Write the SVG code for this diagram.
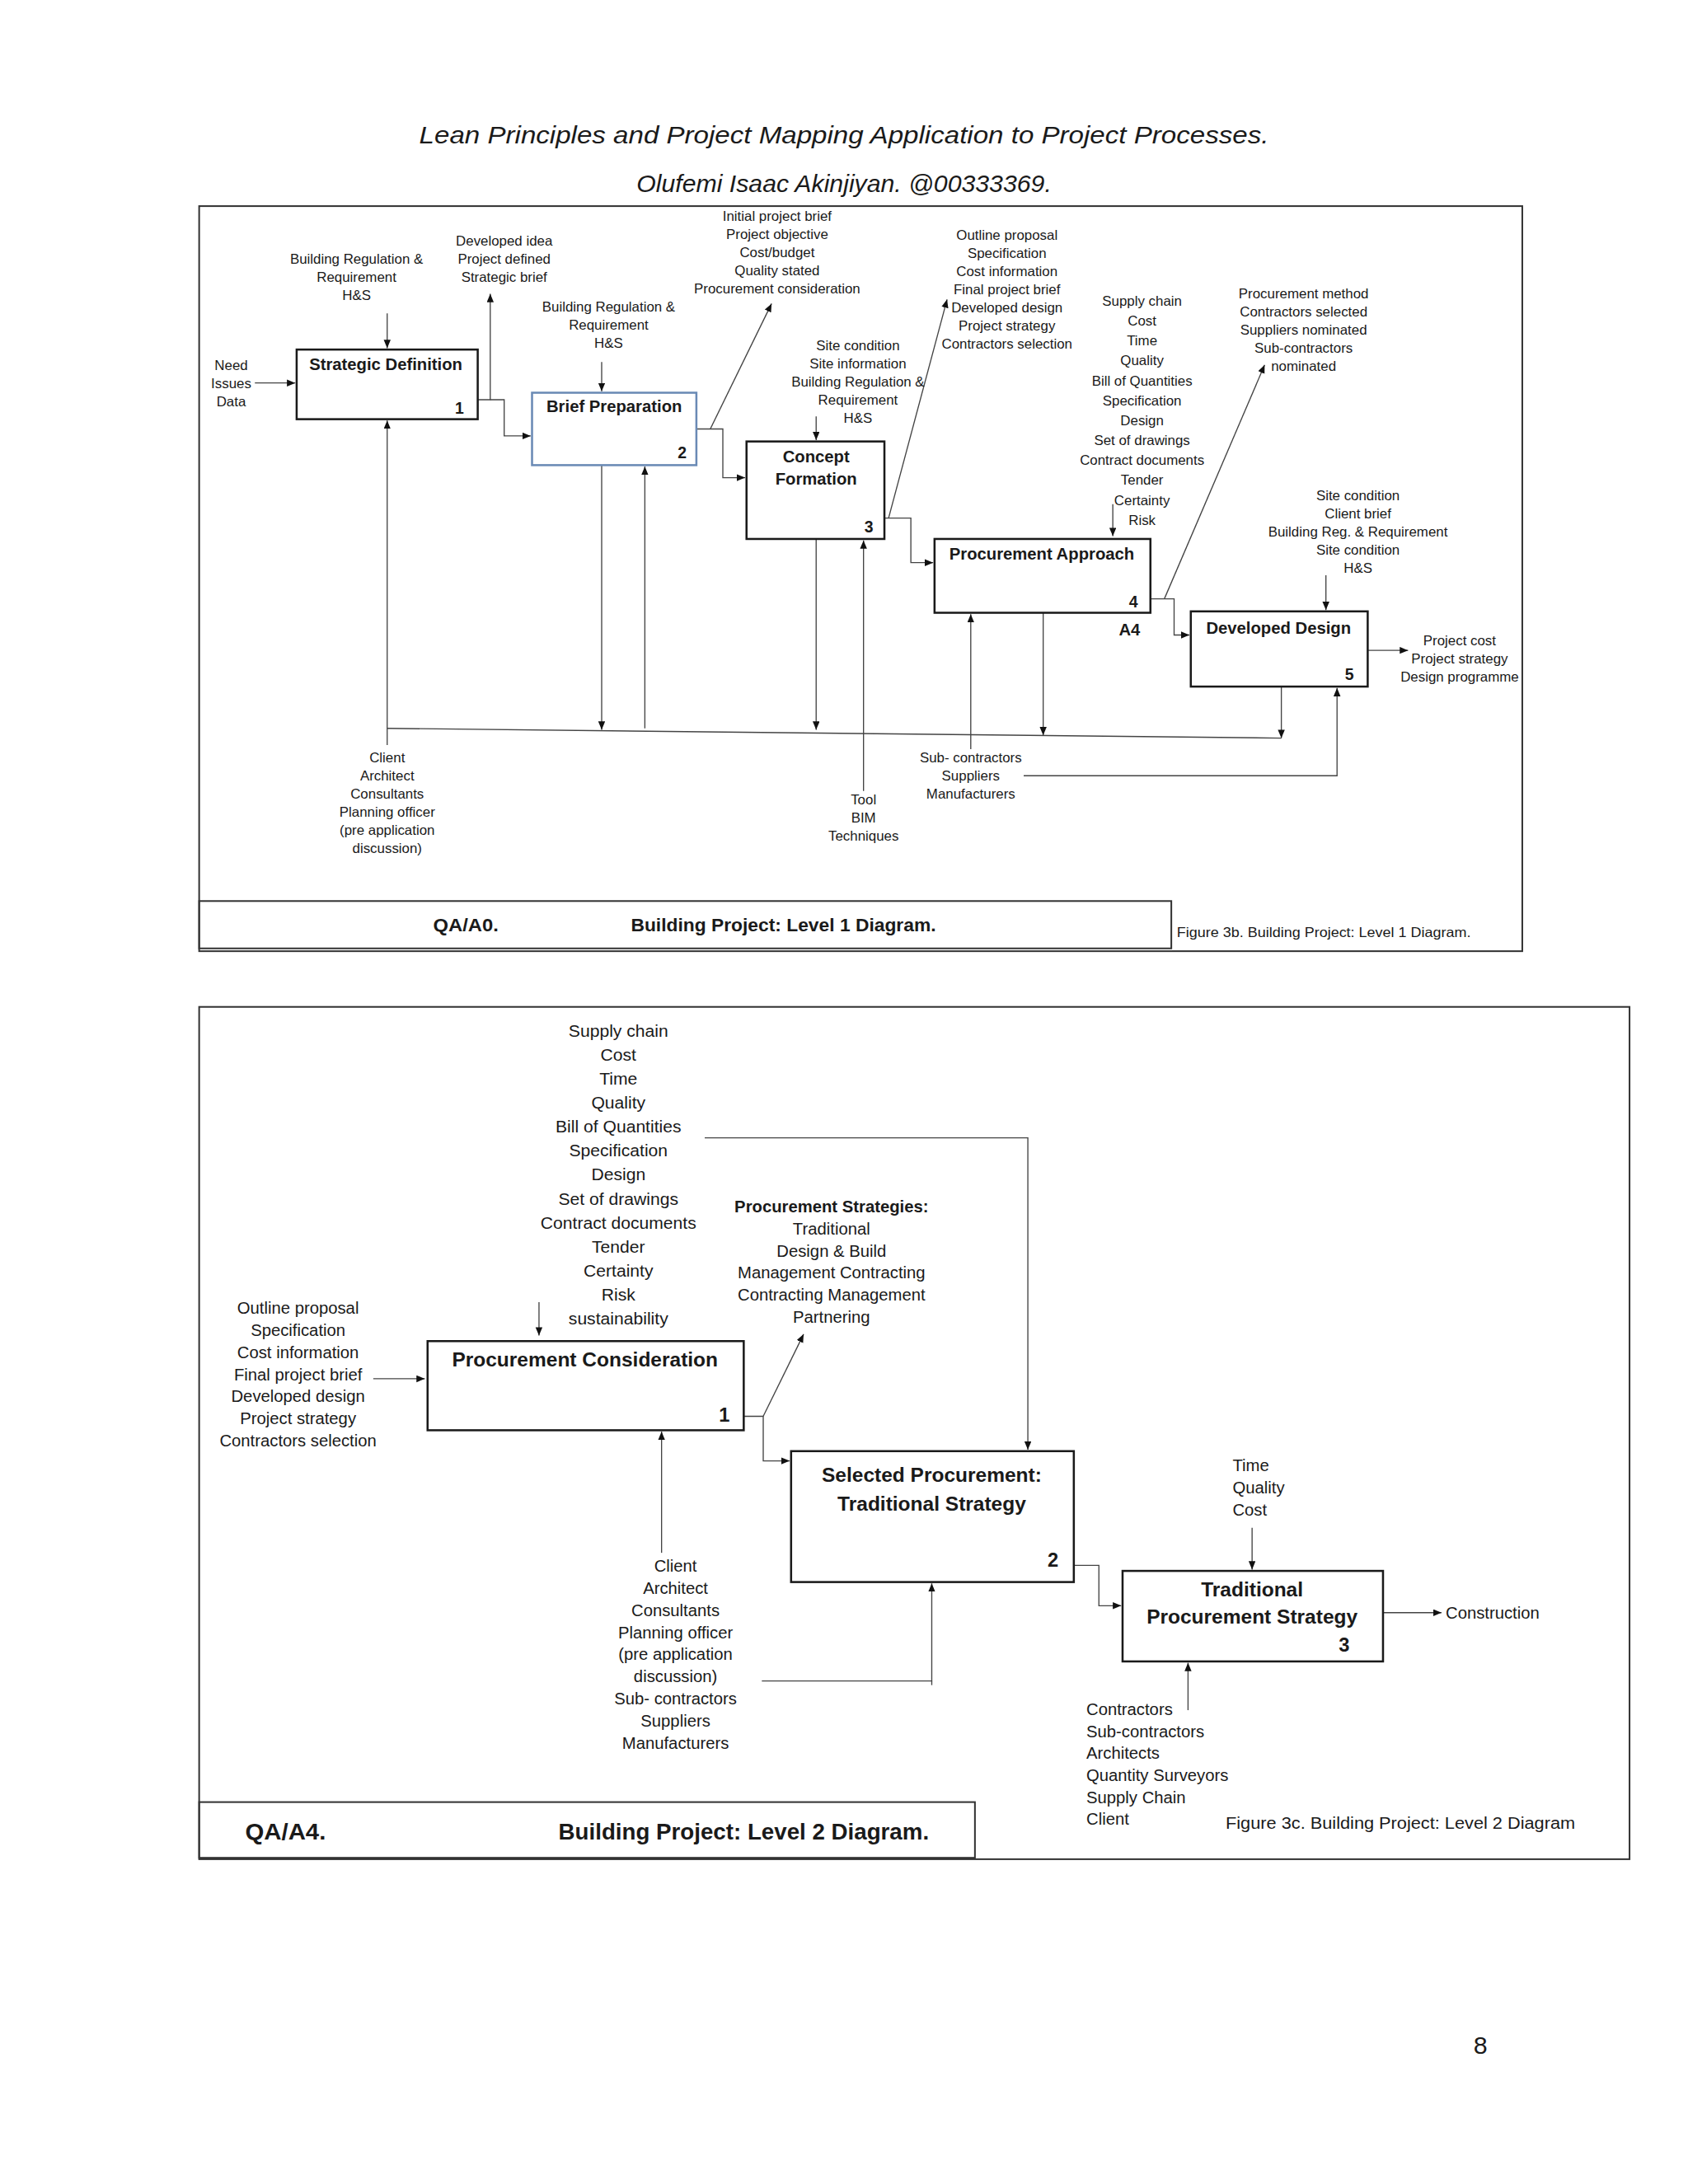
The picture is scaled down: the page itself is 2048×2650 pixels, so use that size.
<svg xmlns="http://www.w3.org/2000/svg" width="2048" height="2650" viewBox="0 0 2048 2650">
<style>
text{font-family:"Liberation Sans",Arial,sans-serif;fill:#1a1a1a}
.s{font-size:10px;text-anchor:middle}
.m{font-size:12.5px;text-anchor:middle}
.ml{font-size:12.5px;text-anchor:start}
.t{font-size:12px;font-weight:bold;text-anchor:middle}
.tb{font-size:14.5px;font-weight:bold;text-anchor:middle}
.n{font-size:11.5px;font-weight:bold;text-anchor:end}
.nb{font-size:14px;font-weight:bold;text-anchor:end}
.box{fill:#fff;stroke:#1a1a1a;stroke-width:1.5}
.frame{fill:none;stroke:#333;stroke-width:1.2}
.cn{fill:none;stroke:#444;stroke-width:0.8}
.hd{font-style:italic;font-size:18px;text-anchor:middle}
</style>
<defs>
<marker id="ar" markerUnits="userSpaceOnUse" markerWidth="7" markerHeight="6" refX="6" refY="2.5" orient="auto">
<path d="M0,0 L6,2.5 L0,5 z" fill="#111"/>
</marker>
</defs>
<rect width="2048" height="2650" fill="#fff"/>
<g transform="scale(1.6898)">
<text class="hd" x="606" y="103" textLength="610" lengthAdjust="spacingAndGlyphs">Lean Principles and Project Mapping Application to Project Processes.</text>
<text class="hd" x="606" y="138" textLength="298" lengthAdjust="spacingAndGlyphs">Olufemi Isaac Akinjiyan. @00333369.</text>

<!-- ===== Level 1 diagram ===== -->
<g id="frame1">
<rect class="frame" x="143" y="148" width="950" height="535"/>
<rect class="frame" x="143" y="647" width="698" height="34" stroke-width="1.5"/>
<text x="311" y="669" style="font-size:13px;font-weight:bold" textLength="47" lengthAdjust="spacingAndGlyphs">QA/A0.</text>
<text x="453" y="669" style="font-size:13px;font-weight:bold" textLength="219" lengthAdjust="spacingAndGlyphs">Building Project: Level 1 Diagram.</text>
<text x="845" y="673" style="font-size:10px" textLength="211" lengthAdjust="spacingAndGlyphs">Figure 3b. Building Project: Level 1 Diagram.</text>
</g>

<g id="connectors1">
<path class="cn" d="M183,275 H212" marker-end="url(#ar)"/>
<path class="cn" d="M278,225 V250" marker-end="url(#ar)"/>
<path class="cn" d="M343,287 H352 V211" marker-end="url(#ar)"/>
<path class="cn" d="M352,287 H362 V313 H381" marker-end="url(#ar)"/>
<path class="cn" d="M432,260 V281" marker-end="url(#ar)"/>
<path class="cn" d="M500,308 H519 V343 H535" marker-end="url(#ar)"/>
<path class="cn" d="M510,308 L554,218" marker-end="url(#ar)"/>
<path class="cn" d="M586,299 V316" marker-end="url(#ar)"/>
<path class="cn" d="M635,372 H654 V404 H670" marker-end="url(#ar)"/>
<path class="cn" d="M638,372 L680,215" marker-end="url(#ar)"/>
<path class="cn" d="M799,362 V385" marker-end="url(#ar)"/>
<path class="cn" d="M826,430 H843 V456 H854" marker-end="url(#ar)"/>
<path class="cn" d="M836,430 L908,262" marker-end="url(#ar)"/>
<path class="cn" d="M952,413 V438" marker-end="url(#ar)"/>
<path class="cn" d="M982,467 H1011" marker-end="url(#ar)"/>
<path class="cn" d="M278,523 L920,530"/>
<path class="cn" d="M278,535 V302" marker-end="url(#ar)"/>
<path class="cn" d="M432,334 V524" marker-end="url(#ar)"/>
<path class="cn" d="M463,523 V335" marker-end="url(#ar)"/>
<path class="cn" d="M586,387 V524" marker-end="url(#ar)"/>
<path class="cn" d="M620,568 V388" marker-end="url(#ar)"/>
<path class="cn" d="M697,538 V441" marker-end="url(#ar)"/>
<path class="cn" d="M749,440 V528" marker-end="url(#ar)"/>
<path class="cn" d="M920,493 V530" marker-end="url(#ar)"/>
<path class="cn" d="M735,557 H960 V494" marker-end="url(#ar)"/>
</g>

<g id="labels1">
<text class="s" x="166" y="265.5">Need</text>
<text class="s" x="166" y="278.5">Issues</text>
<text class="s" x="166" y="291.5">Data</text>
<text class="s" x="256" y="189.5">Building Regulation &amp;</text>
<text class="s" x="256" y="202.5">Requirement</text>
<text class="s" x="256" y="215.5">H&amp;S</text>
<text class="s" x="362" y="176.5">Developed idea</text>
<text class="s" x="362" y="189.5">Project defined</text>
<text class="s" x="362" y="202.5">Strategic brief</text>
<text class="s" x="437" y="223.5">Building Regulation &amp;</text>
<text class="s" x="437" y="236.5">Requirement</text>
<text class="s" x="437" y="249.5">H&amp;S</text>
<text class="s" x="558" y="158.5">Initial project brief</text>
<text class="s" x="558" y="171.5">Project objective</text>
<text class="s" x="558" y="184.5">Cost/budget</text>
<text class="s" x="558" y="197.5">Quality stated</text>
<text class="s" x="558" y="210.5">Procurement consideration</text>
<text class="s" x="616" y="251.5">Site condition</text>
<text class="s" x="616" y="264.5">Site information</text>
<text class="s" x="616" y="277.5">Building Regulation &amp;</text>
<text class="s" x="616" y="290.5">Requirement</text>
<text class="s" x="616" y="303.5">H&amp;S</text>
<text class="s" x="723" y="172.5">Outline proposal</text>
<text class="s" x="723" y="185.5">Specification</text>
<text class="s" x="723" y="198.5">Cost information</text>
<text class="s" x="723" y="211.5">Final project brief</text>
<text class="s" x="723" y="224.5">Developed design</text>
<text class="s" x="723" y="237.5">Project strategy</text>
<text class="s" x="723" y="250.5">Contractors selection</text>
<text class="s" x="820" y="219.5">Supply chain</text>
<text class="s" x="820" y="233.8">Cost</text>
<text class="s" x="820" y="248.1">Time</text>
<text class="s" x="820" y="262.4">Quality</text>
<text class="s" x="820" y="276.7">Bill of Quantities</text>
<text class="s" x="820" y="291">Specification</text>
<text class="s" x="820" y="305.3">Design</text>
<text class="s" x="820" y="319.6">Set of drawings</text>
<text class="s" x="820" y="333.9">Contract documents</text>
<text class="s" x="820" y="348.2">Tender</text>
<text class="s" x="820" y="362.5">Certainty</text>
<text class="s" x="820" y="376.8">Risk</text>
<text class="s" x="936" y="214.5">Procurement method</text>
<text class="s" x="936" y="227.5">Contractors selected</text>
<text class="s" x="936" y="240.5">Suppliers nominated</text>
<text class="s" x="936" y="253.5">Sub-contractors</text>
<text class="s" x="936" y="266.5">nominated</text>
<text class="s" x="975" y="359.5">Site condition</text>
<text class="s" x="975" y="372.5">Client brief</text>
<text class="s" x="975" y="385.5">Building Reg. &amp; Requirement</text>
<text class="s" x="975" y="398.5">Site condition</text>
<text class="s" x="975" y="411.5">H&amp;S</text>
<text class="s" x="1048" y="463.5">Project cost</text>
<text class="s" x="1048" y="476.5">Project strategy</text>
<text class="s" x="1048" y="489.5">Design programme</text>
<text class="s" x="278" y="547.5">Client</text>
<text class="s" x="278" y="560.5">Architect</text>
<text class="s" x="278" y="573.5">Consultants</text>
<text class="s" x="278" y="586.5">Planning officer</text>
<text class="s" x="278" y="599.5">(pre application</text>
<text class="s" x="278" y="612.5">discussion)</text>
<text class="s" x="620" y="577.5">Tool</text>
<text class="s" x="620" y="590.5">BIM</text>
<text class="s" x="620" y="603.5">Techniques</text>
<text class="s" x="697" y="547.5">Sub- contractors</text>
<text class="s" x="697" y="560.5">Suppliers</text>
<text class="s" x="697" y="573.5">Manufacturers</text>
</g>

<g id="n1-strategic-definition">
<rect class="box" x="213" y="251" width="130" height="50"/>
<text class="t" x="277" y="265.5">Strategic Definition</text>
<text class="n" x="333" y="297">1</text>
</g>
<g id="n1-brief-preparation">
<rect class="box" x="382" y="282" width="118" height="52" style="stroke:#6a8ab5"/>
<text class="t" x="441" y="296">Brief Preparation</text>
<text class="n" x="493" y="329">2</text>
</g>
<g id="n1-concept-formation">
<rect class="box" x="536" y="317" width="99" height="70"/>
<text class="t" x="586" y="332">Concept</text>
<text class="t" x="586" y="348">Formation</text>
<text class="n" x="627" y="382">3</text>
</g>
<g id="n1-procurement-approach">
<rect class="box" x="671" y="387" width="155" height="53"/>
<text class="t" x="748" y="402">Procurement Approach</text>
<text class="n" x="817" y="436">4</text>
<text class="t" x="811" y="456">A4</text>
</g>
<g id="n1-developed-design">
<rect class="box" x="855" y="439" width="127" height="54"/>
<text class="t" x="918" y="455">Developed Design</text>
<text class="n" x="972" y="488">5</text>
</g>

<!-- ===== Level 2 diagram ===== -->
<g id="frame2">
<rect class="frame" x="143" y="723" width="1027" height="612"/>
<rect class="frame" x="143" y="1294" width="557" height="40" stroke-width="1.6"/>
<text x="176" y="1321" style="font-size:16px;font-weight:bold" textLength="58" lengthAdjust="spacingAndGlyphs">QA/A4.</text>
<text x="401" y="1321" style="font-size:16px;font-weight:bold" textLength="266" lengthAdjust="spacingAndGlyphs">Building Project: Level 2 Diagram.</text>
<text x="880" y="1313" style="font-size:12.5px" textLength="251" lengthAdjust="spacingAndGlyphs">Figure 3c. Building Project: Level 2 Diagram</text>
</g>

<g id="connectors2">
<path class="cn" d="M387,935 V959" marker-end="url(#ar)"/>
<path class="cn" d="M506,817 H738 V1041" marker-end="url(#ar)"/>
<path class="cn" d="M268,990 H305" marker-end="url(#ar)"/>
<path class="cn" d="M534,1017 H548 V1049 H567" marker-end="url(#ar)"/>
<path class="cn" d="M548,1017 L577,958" marker-end="url(#ar)"/>
<path class="cn" d="M475,1115 V1028" marker-end="url(#ar)"/>
<path class="cn" d="M547,1207 H669 V1137" marker-end="url(#ar)"/>
<path class="cn" d="M669,1207 V1210"/>
<path class="cn" d="M771,1124 H789 V1153 H805" marker-end="url(#ar)"/>
<path class="cn" d="M899,1097 V1127" marker-end="url(#ar)"/>
<path class="cn" d="M993,1158 H1035" marker-end="url(#ar)"/>
<path class="cn" d="M853,1228 V1194" marker-end="url(#ar)"/>
</g>

<g id="labels2">
<text class="m" x="444" y="744.5">Supply chain</text>
<text class="m" x="444" y="761.7">Cost</text>
<text class="m" x="444" y="778.9">Time</text>
<text class="m" x="444" y="796.1">Quality</text>
<text class="m" x="444" y="813.3">Bill of Quantities</text>
<text class="m" x="444" y="830.5">Specification</text>
<text class="m" x="444" y="847.7">Design</text>
<text class="m" x="444" y="864.9">Set of drawings</text>
<text class="m" x="444" y="882.1">Contract documents</text>
<text class="m" x="444" y="899.3">Tender</text>
<text class="m" x="444" y="916.5">Certainty</text>
<text class="m" x="444" y="933.7">Risk</text>
<text class="m" x="444" y="950.9">sustainability</text>
<text x="597" y="870.5" style="font-size:12px;font-weight:bold;text-anchor:middle">Procurement Strategies:</text>
<text class="m" x="597" y="886.5" style="font-size:12px">Traditional</text>
<text class="m" x="597" y="902.3" style="font-size:12px">Design &amp; Build</text>
<text class="m" x="597" y="918.1" style="font-size:12px">Management Contracting</text>
<text class="m" x="597" y="933.9" style="font-size:12px">Contracting Management</text>
<text class="m" x="597" y="949.7" style="font-size:12px">Partnering</text>
<text class="m" x="214" y="943.3" style="font-size:12px">Outline proposal</text>
<text class="m" x="214" y="959.2" style="font-size:12px">Specification</text>
<text class="m" x="214" y="975.1" style="font-size:12px">Cost information</text>
<text class="m" x="214" y="991" style="font-size:12px">Final project brief</text>
<text class="m" x="214" y="1006.9" style="font-size:12px">Developed design</text>
<text class="m" x="214" y="1022.8" style="font-size:12px">Project strategy</text>
<text class="m" x="214" y="1038.7" style="font-size:12px">Contractors selection</text>
<text class="m" x="485" y="1128.5" style="font-size:12px">Client</text>
<text class="m" x="485" y="1144.4" style="font-size:12px">Architect</text>
<text class="m" x="485" y="1160.3" style="font-size:12px">Consultants</text>
<text class="m" x="485" y="1176.2" style="font-size:12px">Planning officer</text>
<text class="m" x="485" y="1192.1" style="font-size:12px">(pre application</text>
<text class="m" x="485" y="1208" style="font-size:12px">discussion)</text>
<text class="m" x="485" y="1223.9" style="font-size:12px">Sub- contractors</text>
<text class="m" x="485" y="1239.8" style="font-size:12px">Suppliers</text>
<text class="m" x="485" y="1255.7" style="font-size:12px">Manufacturers</text>
<text class="ml" x="885" y="1056.5" style="font-size:12px">Time</text>
<text class="ml" x="885" y="1072.5" style="font-size:12px">Quality</text>
<text class="ml" x="885" y="1088.5" style="font-size:12px">Cost</text>
<text class="ml" x="1038" y="1162.5" style="font-size:12px">Construction</text>
<text class="ml" x="780" y="1231.5" style="font-size:12px">Contractors</text>
<text class="ml" x="780" y="1247.3" style="font-size:12px">Sub-contractors</text>
<text class="ml" x="780" y="1263.1" style="font-size:12px">Architects</text>
<text class="ml" x="780" y="1278.9" style="font-size:12px">Quantity Surveyors</text>
<text class="ml" x="780" y="1294.7" style="font-size:12px">Supply Chain</text>
<text class="ml" x="780" y="1310.5" style="font-size:12px">Client</text>
</g>

<g id="n2-procurement-consideration">
<rect class="box" x="307" y="963" width="227" height="64"/>
<text class="tb" x="420" y="981">Procurement Consideration</text>
<text class="nb" x="524" y="1021">1</text>
</g>
<g id="n2-selected-procurement">
<rect class="box" x="568" y="1042" width="203" height="94"/>
<text class="tb" x="669" y="1064">Selected Procurement:</text>
<text class="tb" x="669" y="1085">Traditional Strategy</text>
<text class="nb" x="760" y="1125">2</text>
</g>
<g id="n2-traditional-procurement">
<rect class="box" x="806" y="1128" width="187" height="65"/>
<text class="tb" x="899" y="1146">Traditional</text>
<text class="tb" x="899" y="1166">Procurement Strategy</text>
<text class="nb" x="969" y="1186">3</text>
</g>

<text x="1063" y="1475" style="font-size:18px;text-anchor:middle">8</text>
</g>
</svg>
